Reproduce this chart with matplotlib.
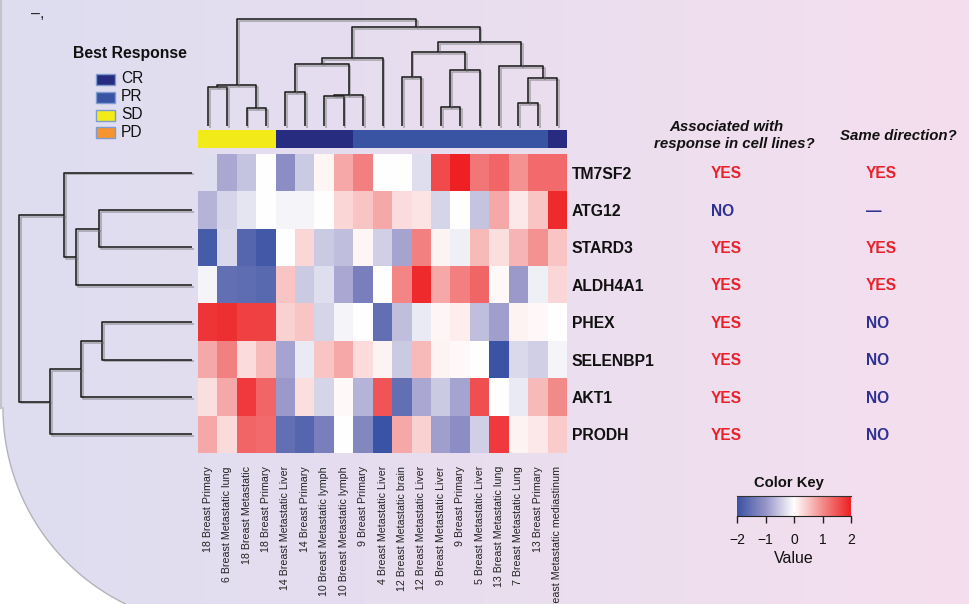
import numpy as np
import matplotlib
matplotlib.use("Agg")
import matplotlib.pyplot as plt
from matplotlib.colors import LinearSegmentedColormap
from matplotlib.patches import Rectangle, Polygon
from matplotlib import patheffects as pe

plt.rcParams['font.family'] = ['Liberation Sans', 'DejaVu Sans']

# ---------------- data ----------------
samples = [
    "18 Breast Primary", "6 Breast Metastatic lung", "18 Breast Metastatic",
    "18 Breast Primary", "14 Breast Metastatic Liver", "14 Breast Primary",
    "10 Breast Metastatic lymph", "10 Breast Metastatic lymph", "9 Breast Primary",
    "4 Breast Metastatic Liver", "12 Breast Metastatic brain", "12 Breast Metastatic Liver",
    "9 Breast Metastatic Liver", "9 Breast Primary", "5 Breast Metastatic Liver",
    "13 Breast Metastatic lung", "7 Breast Metastatic Lung", "13 Breast Primary",
    "13 Breast Metastatic mediastinum",
]
best_response = ["SD"] * 4 + ["CR"] * 4 + ["PR"] * 10 + ["CR"]
genes = ["TM7SF2", "ATG12", "STARD3", "ALDH4A1", "PHEX", "SELENBP1", "AKT1", "PRODH"]

tm7sf2   = [-0.30, -0.80, -0.55, 0.00, -1.10, -0.50, 0.08, 0.75, 1.10, 0.00, 0.00, -0.30, 1.60, 2.00, 1.20, 1.35, 0.95, 1.30, 1.30]
atg12    = [-0.70, -0.40, -0.25, 0.00, -0.10, -0.10, 0.00, 0.35, 0.50, 0.75, 0.30, 0.22, -0.40, 0.00, -0.55, 0.75, 0.20, 0.50, 1.90]
stard3   = [-1.85, -0.35, -1.70, -1.90, 0.00, 0.35, -0.50, -0.60, 0.08, -0.45, -0.85, 1.10, 0.10, -0.15, 0.60, 0.28, 0.65, 0.95, 0.50]
aldh4a1  = [-0.10, -1.55, -1.60, -1.65, 0.50, -0.50, -0.30, -0.80, -1.30, 0.00, 1.05, 1.90, 0.75, 1.10, 1.35, 0.05, -0.95, -0.15, 0.35]
phex     = [1.80, 1.85, 1.70, 1.70, 0.40, 0.50, -0.40, -0.10, 0.00, -1.55, -0.60, -0.20, 0.07, 0.15, -0.60, -0.90, 0.10, 0.05, 0.00]
selenbp1 = [0.75, 1.10, 0.30, 0.60, -0.85, -0.20, 0.50, 0.75, 0.30, 0.10, -0.50, 0.60, 0.10, 0.05, 0.00, -2.00, -0.35, -0.45, -0.10]
akt1     = [0.28, 0.75, 1.75, 1.35, -0.95, 0.28, -0.40, 0.05, -0.70, 1.50, -1.55, -0.80, -0.50, -0.85, 1.55, 0.00, -0.20, 0.60, 1.00]
prodh    = [0.75, 0.32, 1.35, 1.30, -1.55, -1.70, -1.30, 0.00, -1.20, -2.00, 0.75, 0.40, -0.90, -1.10, -0.45, 1.75, 0.10, 0.20, 0.45]

assoc_cell_lines = ["YES", "NO", "YES", "YES", "YES", "YES", "YES", "YES"]
same_direction   = ["YES", "\u2014", "YES", "YES", "NO", "NO", "NO", "NO"]

# column tree: (child_a, child_b, height); leaves 0..18 in display order
col_merges = [
    (0, 1, 39.0), (2, 3, 18.0), (19, 20, 41.0),
    (4, 5, 34.3), (6, 7, 30.3), (23, 8, 31.3), (22, 24, 62.3), (25, 9, 67.7),
    (10, 11, 48.7), (12, 13, 19.3), (28, 14, 56.0), (27, 29, 73.7),
    (16, 17, 23.3), (31, 18, 48.3), (15, 32, 59.7), (30, 33, 83.7),
    (26, 34, 99.0), (21, 35, 106.7),
]
# row tree: leaves 0..7 top to bottom
row_merges = [
    (1, 2, 92.7), (8, 3, 116.0), (0, 9, 127.7),
    (4, 5, 90.3), (11, 6, 111.3), (12, 7, 142.3), (10, 13, 172.7),
]

# ---------------- styling ----------------
W, H = 969, 604
fig = plt.figure(figsize=(W / 100, H / 100), dpi=100)


def box(x0, y0, x1, y1):
    return fig.add_axes([x0 / W, 1 - y1 / H, (x1 - x0) / W, (y1 - y0) / H])


resp_colors = {"CR": "#282C80", "PR": "#3A54A4", "SD": "#F2EB19", "PD": "#F7942F"}
cmap = LinearSegmentedColormap.from_list(
    "key", [(0.0, "#3A53A4"), (0.25, "#9694C8"), (0.5, "#FFFFFF"),
            (0.75, "#F48C8C"), (1.0, "#EE2024")])
YES_C, NO_C = "#E8212B", "#2E3192"

# background panel
bg = box(0, 0, W, H)
g = np.linspace(0, 1, 256)[None, :, None]
left = np.array([221, 221, 240]) / 255
right = np.array([245, 223, 238]) / 255
bg.imshow(left * (1 - g) + right * g, extent=(0, W, H, 0), aspect='auto',
          interpolation='bicubic')
t = np.linspace(np.pi, 2.023, 80)
cx, cy, r = 221, 408, 218
arc = np.column_stack([cx + r * np.cos(t), cy + r * np.sin(t)])
corner = np.vstack([[[0, 408]], arc, [[arc[-1, 0], H + 5], [0, H + 5]]])
bg.add_patch(Polygon(corner, closed=True, facecolor='white', edgecolor='none'))
bg.plot(arc[:, 0], arc[:, 1], color='#b4b4b8', lw=1.0)
bg.plot([1, 1], [0, 408], color='#c4c4c8', lw=1.5)
bg.set_xlim(0, W)
bg.set_ylim(H, 0)
bg.axis('off')
bg.set_zorder(-5)

line_kw = dict(color='#1c1c1c', lw=1.15, solid_capstyle='butt', clip_on=False,
               path_effects=[pe.SimpleLineShadow(offset=(1.3, -1.3), shadow_color='#6a6a6a', alpha=0.5),
                             pe.Normal()])


def tree_segments(merges, n):
    pos = {i: float(i) for i in range(n)}
    hgt = {i: 0.0 for i in range(n)}
    segs = []
    for k, (a, b, h) in enumerate(merges):
        segs.append(([pos[a], pos[a], pos[b], pos[b]], [hgt[a], h, h, hgt[b]]))
        pos[n + k] = (pos[a] + pos[b]) / 2
        hgt[n + k] = h
    return segs


# heatmap
data = np.array([tm7sf2, atg12, stard3, aldh4a1, phex, selenbp1, akt1, prodh])
ax = box(198, 154, 567, 453)
ax.imshow(data, cmap=cmap, vmin=-2, vmax=2, aspect='auto', interpolation='nearest')
ax.set_xticks(range(len(samples)))
ax.set_xticklabels(samples, rotation=90, fontsize=7.7, color='#222222')
ax.tick_params(axis='x', length=0, pad=9.4)
ax.yaxis.tick_right()
ax.set_yticks(range(len(genes)))
ax.set_yticklabels(genes, fontsize=11.3, fontweight='bold', color='#111111')
ax.tick_params(axis='y', length=0, pad=3.6)
for s in ax.spines.values():
    s.set_visible(False)

# response annotation bar
ann = box(198, 130, 567, 148)
rgb = np.array([matplotlib.colors.to_rgb(resp_colors[b]) for b in best_response])
ann.imshow(rgb[None, :, :], aspect='auto', interpolation='nearest')
ann.axis('off')

# column dendrogram
td = box(198, 10, 567, 126)
td.patch.set_alpha(0)
for xs, ys in tree_segments(col_merges, len(samples)):
    td.plot(xs, ys, **line_kw)
td.set_xlim(-0.5, len(samples) - 0.5)
td.set_ylim(0, 116)
td.axis('off')

# row dendrogram
ld = box(0, 154, 192, 453)
ld.patch.set_alpha(0)
for ys, xs in tree_segments(row_merges, len(genes)):
    ld.plot(xs, ys, **line_kw)
ld.set_xlim(192, 0)
ld.set_ylim(len(genes) - 0.5, -0.5)
ld.axis('off')

# legend for best response
bg.text(130.4, 58, "Best Response", ha='center', va='baseline', fontsize=11.3,
        fontweight='bold', color='#111111')
for i, lab in enumerate(["CR", "PR", "SD", "PD"]):
    yb = [83.3, 101.0, 119.0, 136.7][i]
    bg.add_patch(Rectangle((96, yb - 9.5), 19, 11.2, facecolor=resp_colors[lab],
                           edgecolor='#7d9ccf', lw=1.0))
    bg.text(121, yb, lab, ha='left', va='baseline', fontsize=11.2, color='#111111')

# right-hand annotation columns
bg.text(726, 130.7, "Associated with", ha='center', va='baseline', fontsize=10.8,
        fontweight='bold', fontstyle='italic', color='#111111')
bg.text(734, 148.0, "response in cell lines?", ha='center', va='baseline', fontsize=10.8,
        fontweight='bold', fontstyle='italic', color='#111111')
bg.text(898, 140, "Same direction?", ha='center', va='baseline', fontsize=10.8,
        fontweight='bold', fontstyle='italic', color='#111111')
row_y = 154 + (np.arange(len(genes)) + 0.5) * (453 - 154) / len(genes)
for y, a, s in zip(row_y, assoc_cell_lines, same_direction):
    bg.text(711, y + 5.6, a, ha='left', va='baseline', fontsize=11.2, fontweight='bold',
            color=YES_C if a == "YES" else NO_C)
    bg.text(866, y + 5.6, s, ha='left', va='baseline', fontsize=11.2, fontweight='bold',
            color=YES_C if s == "YES" else NO_C)

# colour key
ck = box(737, 496, 851, 516)
ck.imshow(np.linspace(-2, 2, 256)[None, :], cmap=cmap, vmin=-2, vmax=2,
          extent=(-2, 2, 0, 1), aspect='auto', interpolation='bilinear')
ck.set_xlim(-2, 2)
ck.set_yticks([])
ck.set_xticks([-2, -1, 0, 1, 2])
ck.set_xticklabels(["\u22122", "\u22121", "0", "1", "2"], fontsize=10, color='#111111')
ck.tick_params(axis='x', length=5, width=1, direction='out', pad=7, color='#222222')
for side in ['left', 'right']:
    ck.spines[side].set_visible(False)
ck.spines['top'].set_color('#333333')
ck.spines['bottom'].set_color('#222222')
bg.text(788.5, 486.7, "Color Key", ha='center', va='baseline', fontsize=10.6,
        fontweight='bold', color='#111111')
bg.text(793.7, 563, "Value", ha='center', va='baseline', fontsize=11.5, color='#111111')

bg.text(31, 18.5, "\u2013,", ha='left', va='baseline', fontsize=11.5, color='#222222')

fig.savefig("out.png", dpi=100)
